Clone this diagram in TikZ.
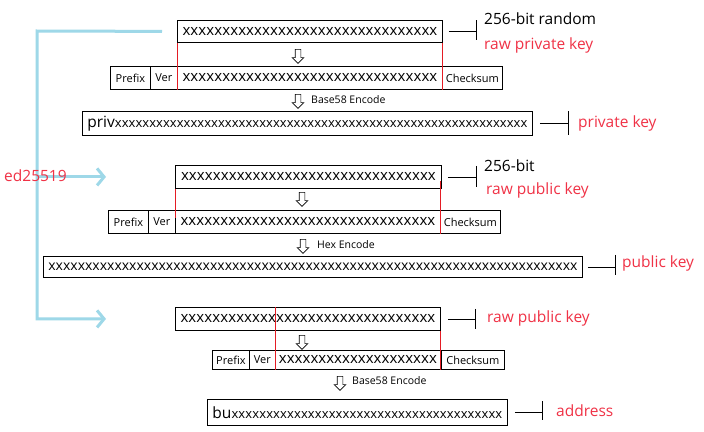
\documentclass[tikz,border=0pt]{standalone}
\usepackage{fontspec}
\setmainfont{Open Sans}
\usetikzlibrary{arrows.meta}
\usetikzlibrary{shapes.arrows}

\definecolor{keyred}{RGB}{240,50,70}
\definecolor{cutred}{RGB}{228,28,36}
\definecolor{linkblue}{RGB}{158,216,232}

% a row of x's filling a box of width #1, after the prefix #2
\newcommand{\xrow}[3]{\makebox[#1][l]{{#2}\fontsize{#3}{#3}\selectfont\xleaders\hbox{x}\hfill}}

\tikzset{
	field/.style={draw, line width=0.8pt, inner sep=0pt, anchor=north west, font=\fontsize{11}{11}\selectfont},
	down/.style={single arrow, draw, line width=0.6pt, shape border rotate=270, minimum height=14pt, inner sep=2.5pt, single arrow head extend=3pt},
	codec/.style={anchor=west, inner sep=0pt, font=\fontsize{10.5}{10.5}\selectfont},
	note/.style={anchor=base west, inner sep=0pt, font=\fontsize{15.5}{15.5}\selectfont},
	keyname/.style={note, text=keyred},
	cut/.style={cutred, line width=0.8pt},
	tick/.style={line width=0.8pt},
	flow/.style={linkblue, line width=3pt, -{Straight Barb[length=7pt,width=17pt]}},
}

\begin{document}
\begin{tikzpicture}[x=1pt,y=-1pt]
	\fill[white] (0,0) rectangle (704,431);
	\useasboundingbox (0,0) rectangle (704,431);

	% private key
	\node[field, minimum width=265pt, minimum height=22pt] (raw1) at (177,20) {\xrow{255pt}{}{15}};
	\node[down] (a1) at (298,55) {};
	\node[field, minimum width=40pt, minimum height=23pt] (pre1) at (110,66) {Prefix};
	\node[field, minimum width=27pt, minimum height=23pt] (ver1) at (150,66) {Ver};
	\node[field, minimum width=265pt, minimum height=23pt] (dat1) at (177,66) {\xrow{255pt}{}{15}};
	\node[field, minimum width=60pt, minimum height=23pt] (chk1) at (442,66) {Checksum};
	\draw[cut] (raw1.south west) -- (dat1.south west);
	\draw[cut] (raw1.south east) -- (dat1.south east);
	\node[down] (a2) at (298,100) {};
	\node[codec] (enc1) at (311,100) {Base58 Encode};
	\node[field, minimum width=450pt, minimum height=24pt] (priv) at (82,111) {\xrow{440pt}{\fontsize{15.5}{15.5}\selectfont priv}{13}};

	\draw[tick] ([xshift=6pt]raw1.east) -- ++(28,0) coordinate (t1);
	\draw[tick] (t1) ++(0,-11) -- ++(0,20);
	\node[note] (bits1) at (484,24) {256-bit random};
	\node[keyname] (rawpriv) at (484,49) {raw private key};
	\draw[tick] ([xshift=7pt]priv.east) -- ++(29,0) coordinate (t2);
	\draw[tick] (t2) ++(0,-12) -- ++(0,24);
	\node[keyname] (privkey) at (578,127) {private key};

	% public key
	\node[field, minimum width=266pt, minimum height=23pt] (raw2) at (175,165) {\xrow{255pt}{}{15}};
	\node[down] (a3) at (302,198) {};
	\node[field, minimum width=40pt, minimum height=23pt] (pre2) at (108,210) {Prefix};
	\node[field, minimum width=27pt, minimum height=23pt] (ver2) at (148,210) {Ver};
	\node[field, minimum width=265pt, minimum height=23pt] (dat2) at (175,210) {\xrow{255pt}{}{15}};
	\node[field, minimum width=60pt, minimum height=23pt] (chk2) at (440,210) {Checksum};
	\draw[cut] (raw2.south west) -- ([yshift=-8pt]dat2.north west);
	\draw[cut] (dat2.south east) -- ++(0,-53);
	\node[down] (a4) at (303,245) {};
	\node[codec] (enc2) at (317,245) {Hex Encode};
	\node[field, minimum width=539pt, minimum height=21pt] (pub) at (43,256) {\xrow{529pt}{}{14}};

	\draw[tick] ([xshift=6pt]raw2.east) -- ++(29,0) coordinate (t3);
	\draw[tick] (t3) ++(0,-11) -- ++(0,21);
	\node[note] (bits2) at (484,171) {256-bit};
	\node[keyname] (rawpub1) at (486,194) {raw public key};
	\draw[tick] ([xshift=5pt]pub.east) -- ++(28,0) coordinate (t4);
	\draw[tick] (t4) ++(0,-12) -- ++(0,20);
	\node[keyname] (pubkey) at (622,267) {public key};

	% address
	\node[field, minimum width=265pt, minimum height=23pt] (raw3) at (175,307) {\xrow{255pt}{}{15}};
	\node[down] (a5) at (302,341) {};
	\node[field, minimum width=37pt, minimum height=19pt] (pre3) at (212,350) {Prefix};
	\node[field, minimum width=26pt, minimum height=19pt] (ver3) at (249,350) {Ver};
	\node[field, minimum width=165pt, minimum height=19pt] (dat3) at (275,350) {\xrow{158pt}{}{15}};
	\node[field, minimum width=63pt, minimum height=19pt] (chk3) at (441,350) {Checksum};
	\draw[cut] (dat3.south west) -- (dat3.south west |- raw3.north);
	\draw[cut] (raw3.south east) -- (dat3.south east);
	\node[down] (a6) at (340,382) {};
	\node[codec] (enc3) at (352,381) {Base58 Encode};
	\node[field, minimum width=300pt, minimum height=26pt] (bux) at (207,399) {\xrow{290pt}{\fontsize{15.5}{15.5}\selectfont bu}{13}};

	\draw[tick] ([xshift=7pt]raw3.east) -- ++(28,0) coordinate (t5);
	\draw[tick] (t5) ++(0,-10) -- ++(0,20);
	\node[keyname] (rawpub2) at (487,322) {raw public key};
	\draw[tick] ([xshift=7pt]bux.east) -- ++(28,0) coordinate (t6);
	\draw[tick] (t6) ++(0,-11) -- ++(0,19);
	\node[keyname] (addr) at (556,416) {address};

	% ed25519 links
	\coordinate (bend) at (37,31);
	\draw[flow] ([xshift=-15pt]raw1.west) -- (bend) -- (bend |- raw3.west) -- ++(69,0);
	\draw[flow] (bend |- raw2.west) -- ++(69,0);
	\node[keyname] (curve) at (4,181) {ed25519};
\end{tikzpicture}
\end{document}
